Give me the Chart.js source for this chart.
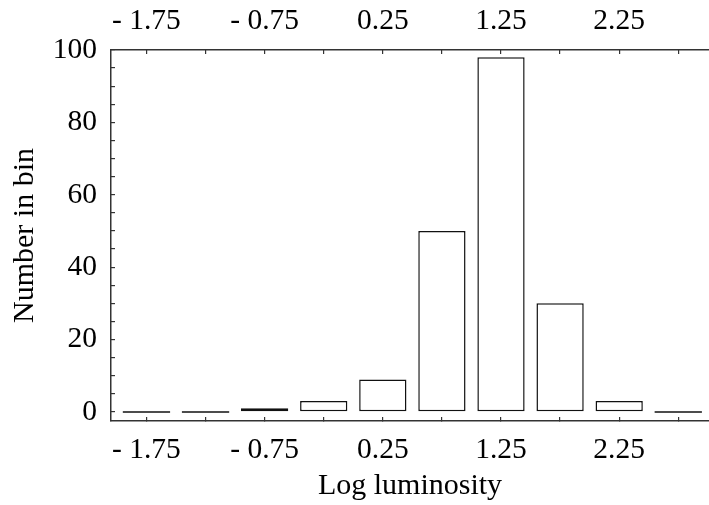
<!DOCTYPE html>
<html>
<head>
<meta charset="utf-8">
<script src="https://cdn.jsdelivr.net/npm/chart.js@4.4.1/dist/chart.umd.min.js"></script>
<style>
  html, body { margin: 0; padding: 0; background: #fff; }
</style>
</head>
<body>
<canvas id="chart" width="709" height="505"></canvas>
<script>
// histogram data
const binCenters = [-1.75, -1.25, -0.75, -0.25, 0.25, 0.75, 1.25, 1.75, 2.25, 2.75];
const binCounts = [0, 0, 1, 3, 9, 50, 98, 30, 3, 0];

// ticks: a mark at every bin centre, a label every second one
const xTickValues = [-1.75, -1.25, -0.75, -0.25, 0.25, 0.75, 1.25, 1.75, 2.25, 2.75];
const xLabelValues = [-1.75, -0.75, 0.25, 1.25, 2.25];
const xLabelTexts = ['- 1.75', '- 0.75', '0.25', '1.25', '2.25'];
const yTickValues = [0, 5, 10, 15, 20, 25, 30, 35, 40, 45, 50, 55, 60, 65, 70, 75, 80, 85, 90, 95, 100];
const yLabelValues = [0, 20, 40, 60, 80, 100];

const ink = '#111';
const axisColor = '#333';
const serif = 'Liberation Serif, Times New Roman, serif';
const tickFont = { family: serif, size: 29.5 };
const titleFont = { family: serif, size: 30 };

function xLabel(v) {
    const i = xLabelValues.findIndex(t => Math.abs(t - v) < 1e-6);
    return i >= 0 ? xLabelTexts[i] : '';
}

function setTicks(values) {
    return scale => { scale.ticks = values.map(v => ({ value: v })); };
}

// zero-height bins are drawn as a flat line on the baseline
const zeroBarLines = {
    id: 'zeroBarLines',
    afterDatasetsDraw(chart) {
        const meta = chart.getDatasetMeta(0);
        const ctx = chart.ctx;
        ctx.save();
        ctx.strokeStyle = ink;
        ctx.lineWidth = 1.5;
        meta.data.forEach((bar, i) => {
            if (binCounts[i] !== 0) return;
            const { x, y, width } = bar.getProps(['x', 'y', 'width'], true);
            ctx.beginPath();
            ctx.moveTo(x - width / 2, y);
            ctx.lineTo(x + width / 2, y);
            ctx.stroke();
        });
        ctx.restore();
    }
};

const xAxisCommon = {
    type: 'linear',
    min: -2.05,
    max: 3.01,
    offset: false,
    afterBuildTicks: setTicks(xTickValues),
    grid: { offset: false, drawOnChartArea: false, drawTicks: true, tickLength: -4, color: axisColor, lineWidth: 1.2 },
    border: { display: true, color: axisColor, width: 1.5 },
    ticks: {
        autoSkip: false,
        maxRotation: 0,
        padding: 15.3,
        color: '#000',
        font: tickFont,
        callback: v => xLabel(v)
    }
};

new Chart(document.getElementById('chart'), {
    type: 'bar',
    data: {
        datasets: [{
            data: binCenters.map((c, i) => ({ x: c, y: binCounts[i] })),
            backgroundColor: '#fff',
            borderColor: ink,
            borderWidth: 1.5,
            borderSkipped: false,
            categoryPercentage: 1.0,
            barPercentage: 0.8
        }]
    },
    options: {
        responsive: false,
        animation: false,
        layout: { padding: 0 },
        plugins: { legend: { display: false }, tooltip: { enabled: false } },
        scales: {
            x: {
                ...xAxisCommon,
                position: 'bottom',
                afterFit: s => { s.height = 84; },
                title: {
                    display: true,
                    text: 'Log luminosity',
                    color: '#000',
                    font: titleFont,
                    padding: { top: 0, bottom: 0.5 }
                }
            },
            x2: {
                ...xAxisCommon,
                position: 'top',
                afterFit: s => { s.height = 50; }
            },
            y: {
                type: 'linear',
                position: 'left',
                min: -2.5,
                max: 100,
                afterBuildTicks: setTicks(yTickValues),
                afterFit: s => { s.width = 111; },
                grid: { drawOnChartArea: false, drawTicks: true, tickLength: -4, color: axisColor, lineWidth: 1.2 },
                border: { display: true, color: axisColor, width: 1.5 },
                ticks: {
                    autoSkip: false,
                    padding: 18,
                    color: '#000',
                    font: tickFont,
                    callback: v => (yLabelValues.includes(v) ? String(v) : '')
                },
                title: {
                    display: true,
                    text: 'Number in bin',
                    color: '#000',
                    font: titleFont,
                    padding: { top: 7, bottom: 4 }
                }
            }
        }
    },
    plugins: [zeroBarLines]
});
</script>
</body>
</html>
